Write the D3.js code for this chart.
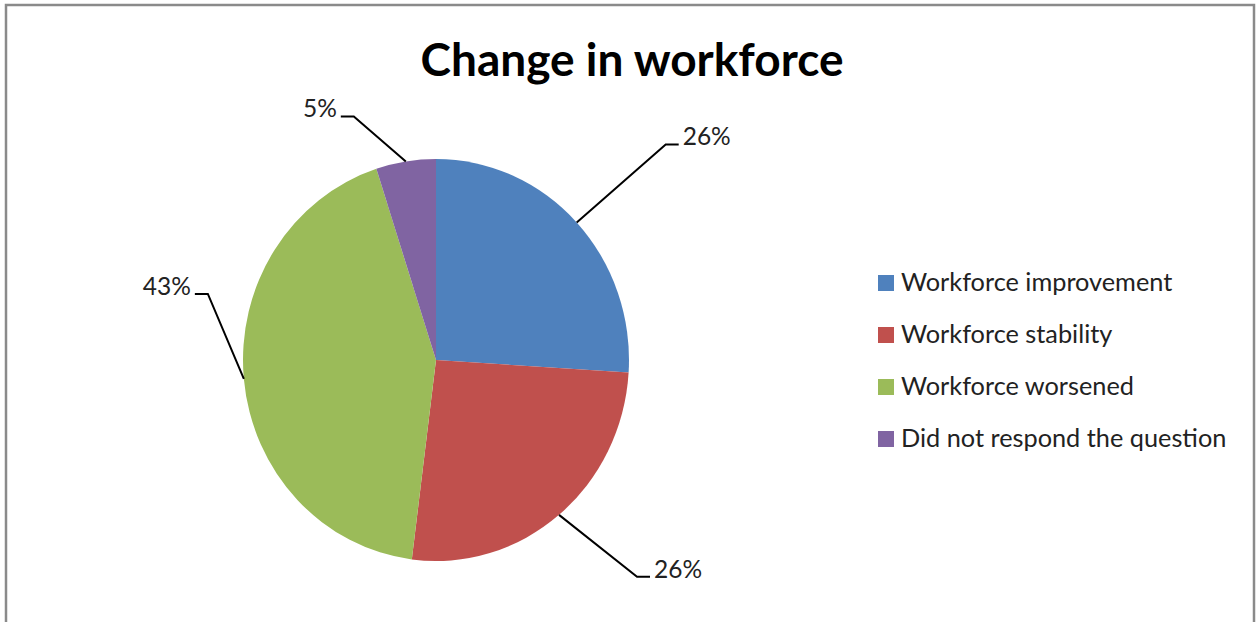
<html>
<head>
<meta charset="utf-8">
<title>Change in workforce</title>
<style>
  body { margin: 0; background: #fff; }
  text { font-family: Lato, "Open Sans", sans-serif; }
</style>
</head>
<body>
<svg width="1258" height="622"></svg>
<script src="https://d3js.org/d3.v7.min.js"></script>
<script>

var categories = ["Workforce improvement", "Workforce stability", "Workforce worsened", "Did not respond the question"];
var values = [26, 26, 43, 5];
var labels = ["26%", "26%", "43%", "5%"];
var colors = ["#4F81BD", "#C0504D", "#9BBB59", "#8064A2"];
// where each leader line bends, relative to the slice edge
var elbow = [[89, -78], [78, 62], [-36, -85], [-52, -45]];

var svg = d3.select("svg");

// chart frame
svg.append("rect")
  .attr("x", 6).attr("y", 5)
  .attr("width", 1248).attr("height", 640)
  .style("fill", "none")
  .style("stroke", "#8a8a8a")
  .style("stroke-width", 2.5);

svg.append("text")
  .attr("x", 632).attr("y", 76)
  .attr("text-anchor", "middle")
  .attr("font-size", "46px")
  .attr("font-weight", "bold")
  .text("Change in workforce");

var cx = 436, cy = 360, rx = 193, ry = 201;
var ky = ry / rx;

var pie = d3.pie().sort(null)(values);
var arc = d3.arc().innerRadius(0).outerRadius(rx);
var edge = d3.arc().innerRadius(rx).outerRadius(rx);

var g = svg.append("g")
  .attr("transform", "translate(" + cx + "," + cy + ")");

g.append("g")
  .attr("transform", "scale(1," + ky + ")")
  .selectAll("path")
  .data(pie)
  .enter()
  .append("path")
  .attr("d", arc)
  .style("fill", function(d, i) { return colors[i]; });

// leader lines and labels
pie.forEach(function(d, i) {
  var c = edge.centroid(d);
  var x0 = c[0], y0 = c[1] * ky;
  var x1 = x0 + elbow[i][0], y1 = y0 + elbow[i][1];
  var dir = elbow[i][0] > 0 ? 1 : -1;
  var x2 = x1 + dir * 13;
  g.append("path")
    .attr("d", "M" + x0 + "," + y0 + "L" + x1 + "," + y1 + "L" + x2 + "," + y1)
    .style("fill", "none")
    .style("stroke", "#000")
    .style("stroke-width", 2);
  g.append("text")
    .attr("x", x2 + dir * 4)
    .attr("y", y1 + 1)
    .attr("text-anchor", dir > 0 ? "start" : "end")
    .attr("font-size", "24.5px")
    .attr("fill", "#222")
    .text(labels[i]);
});

// legend
var leg = svg.append("g").selectAll("g")
  .data(categories)
  .enter()
  .append("g")
  .attr("transform", function(d, i) { return "translate(878," + (275 + i * 52) + ")"; });

leg.append("rect")
  .attr("width", 16).attr("height", 16)
  .style("fill", function(d, i) { return colors[i]; });

leg.append("text")
  .attr("x", 23).attr("y", 16)
  .attr("font-size", "25.3px")
  .attr("fill", "#222")
  .text(function(d) { return d; });

</script>
</body>
</html>
